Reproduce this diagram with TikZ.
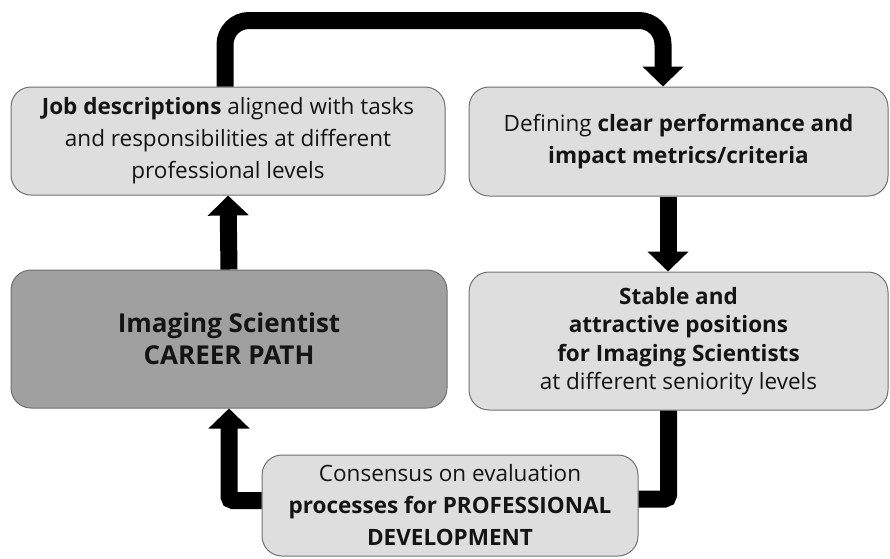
\documentclass[tikz,border=0pt]{standalone}
\usepackage{fontspec}
\setmainfont{Open Sans}
\usepackage{tikz}
\usepackage{xcolor}
\usetikzlibrary{arrows.meta, positioning, calc}

\definecolor{boxfill}{HTML}{DEDEDE}
\definecolor{corefill}{HTML}{A0A0A0}
\definecolor{boxline}{HTML}{707070}
\definecolor{inktext}{HTML}{141414}

\begin{document}
\begin{tikzpicture}[x=1pt, y=-1pt,
    box/.style={rectangle, rounded corners=20pt, draw=boxline, line width=1pt, fill=boxfill,
        text=inktext, align=center, inner sep=0pt,
        font=\fontsize{22.5}{32}\selectfont},
    flow/.style={draw=black, line width=17pt, -{Triangle[width=40pt, length=20pt]}},
    link/.style={draw=black, line width=17pt}
]
\useasboundingbox (0,0) rectangle (890,558);

% Boxes
\node[box, minimum width=434pt, minimum height=108pt] (jobs) at (228,141)
    {\textbf{Job descriptions} aligned with tasks\\
     and responsibilities at different\\
     professional levels};
\node[box, minimum width=419pt, minimum height=109pt] (metrics) at (678.5,141.5)
    {Defining \textbf{clear performance and}\\
     \textbf{impact metrics/criteria}};
\node[box, fill=corefill, minimum width=436pt, minimum height=138pt,
    font=\fontsize{26}{32}\selectfont\bfseries] (career) at (229,339)
    {Imaging Scientist\\ CAREER PATH};
\node[box, minimum width=419pt, minimum height=138pt,
    font=\fontsize{22.5}{28.5}\selectfont] (positions) at (678.5,341)
    {\textbf{Stable and}\\
     \textbf{attractive positions}\\
     \textbf{for Imaging Scientists}\\
     at different seniority levels};
\node[box, minimum width=376pt, minimum height=101pt] (consensus) at (450,505.5)
    {Consensus on evaluation\\
     \textbf{processes for PROFESSIONAL}\\
     \textbf{DEVELOPMENT}};

% Connectors
\draw[flow, rounded corners=24pt] ([xshift=-3pt]jobs.north) -- ++(0,-66) -| ([xshift=-15.5pt]metrics.north);
\draw[flow] ([xshift=-10.5pt]metrics.south) -- ([xshift=-10.5pt]metrics.south |- positions.north);
\draw[flow] (career.north) -- (jobs.south);
\draw[link, rounded corners=4pt] ([xshift=-10pt]positions.south) |- ([yshift=6.5pt]consensus.east);
\draw[flow, rounded corners=4pt] ([yshift=5pt]consensus.west) -| (career.south);
\end{tikzpicture}
\end{document}
